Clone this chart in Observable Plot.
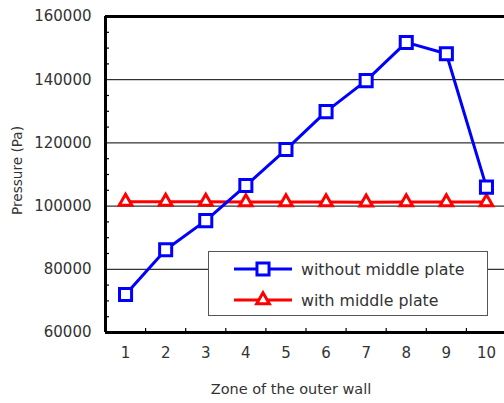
<!DOCTYPE html>
<html><head><meta charset="utf-8">
<script src="https://cdn.jsdelivr.net/npm/d3@7"></script>
<script src="https://cdn.jsdelivr.net/npm/@observablehq/plot@0.6"></script>
<style>
html,body{margin:0;padding:0;background:#fff;overflow:hidden;}
#wrap{position:relative;width:504px;height:403px;}
#legend{position:absolute;left:208px;top:251px;width:278px;height:63px;border:1px solid #555;background:#fff;font-family:"DejaVu Sans";font-size:15.8px;color:#333;}
.row{position:absolute;left:0;height:20px;display:flex;align-items:center;}
.row svg{margin-left:25px;}
.row span{margin-left:9px;}
</style></head>
<body><div id="wrap"></div>
<script>
const zones = [1,2,3,4,5,6,7,8,9,10];
const withoutPlate = [72000, 86200, 95400, 106500, 117900, 129900, 139700, 151800, 148200, 106000];
const withPlate = [101400, 101400, 101400, 101300, 101300, 101300, 101200, 101300, 101300, 101300];
const seriesNames = ["without middle plate", "with middle plate"];
const yMajor = [60000, 80000, 100000, 120000, 140000, 160000];
const yGrid = [80000, 100000, 120000, 140000];
const yMinor = d3.range(65000, 160000, 5000).filter(v => v % 20000 !== 0);
const xBetween = [1.5,2.5,3.5,4.5,5.5,6.5,7.5,8.5,9.5];
const xLabel = "Zone of the outer wall";
const yLabel = "Pressure (Pa)";

const blue = "#0000ff", red = "#ff0000";
const dataA = zones.map((z,i)=>({zone:z, p:withoutPlate[i]}));
const dataB = zones.map((z,i)=>({zone:z, p:withPlate[i]}));

const font = "DejaVu Sans";
const chart = Plot.plot({
  width: 504, height: 403,
  marginLeft: 105, marginRight: 0, marginTop: 16, marginBottom: 71,
  style: {fontFamily: font, fontSize: "15px", color: "#333", background: "#fff"},
  x: {domain: [0.5, 10.45], axis: null},
  y: {domain: [60000, 160000], axis: null},
  marks: [
    Plot.ruleY(yGrid, {stroke: "#000", strokeWidth: 1}),
    Plot.axisY({ticks: yMinor, tickSize: 4, dx: 4, tickFormat: null, text: null, label: null, stroke: "#000", strokeWidth: 1.2}),
    Plot.axisY({ticks: yMajor, tickSize: 0, tickPadding: 14, tickFormat: d => String(d), label: null, fill: "#333", fontSize: 15}),
    Plot.axisX({ticks: xBetween, tickSize: 4, dy: -4, text: null, tickFormat: null, label: null, stroke: "#000", strokeWidth: 1.2}),
    Plot.axisX({ticks: zones, tickSize: 0, tickPadding: 15, tickFormat: d => String(d), label: null, fill: "#333", fontSize: 15}),
    Plot.ruleY([160000], {stroke: "#000", strokeWidth: 3}),
    Plot.ruleY([60000], {stroke: "#000", strokeWidth: 3}),
    Plot.ruleX([0.5], {stroke: "#000", strokeWidth: 3}),
    Plot.lineY(dataB, {x: "zone", y: "p", stroke: red, strokeWidth: 3}),
    Plot.dot(dataB, {x: "zone", y: "p", symbol: "triangle", r: 4.7, stroke: red, strokeWidth: 3, fill: "#fff"}),
    Plot.lineY(dataA, {x: "zone", y: "p", stroke: blue, strokeWidth: 3}),
    Plot.dot(dataA, {x: "zone", y: "p", symbol: "square", r: 6.8, stroke: blue, strokeWidth: 3, fill: "#fff"}),
    Plot.text([xLabel], {frameAnchor: "bottom", dy: 61, dx: -14, fill: "#333", fontSize: 14.5}),
    Plot.text([yLabel], {frameAnchor: "left", textAnchor: "middle", dx: -88, dy: -4, rotate: -90, fill: "#333", fontSize: 13.6})
  ]
});
const wrap = document.getElementById("wrap");
wrap.appendChild(chart);

const legend = document.createElement("div");
legend.id = "legend";
const items = [{name: seriesNames[0], color: blue, sym: "square"}, {name: seriesNames[1], color: red, sym: "triangle"}];
items.forEach((it, i) => {
  const row = document.createElement("div");
  row.className = "row";
  row.style.top = (7 + i*31) + "px";
  const s = d3.create("svg").attr("width", 58).attr("height", 20);
  s.append("line").attr("x1", 0).attr("x2", 58).attr("y1", 10).attr("y2", 10).attr("stroke", it.color).attr("stroke-width", 3);
  const sym = it.sym === "square" ? d3.symbolSquare : d3.symbolTriangle;
  const r = it.sym === "square" ? 6.8 : 4.7;
  s.append("path").attr("d", d3.symbol(sym, r*r*Math.PI)()).attr("transform", "translate(29,10)")
    .attr("fill", "#fff").attr("stroke", it.color).attr("stroke-width", 3);
  row.appendChild(s.node());
  const t = document.createElement("span");
  t.textContent = it.name;
  row.appendChild(t);
  legend.appendChild(row);
});
wrap.appendChild(legend);
</script>
</body></html>
